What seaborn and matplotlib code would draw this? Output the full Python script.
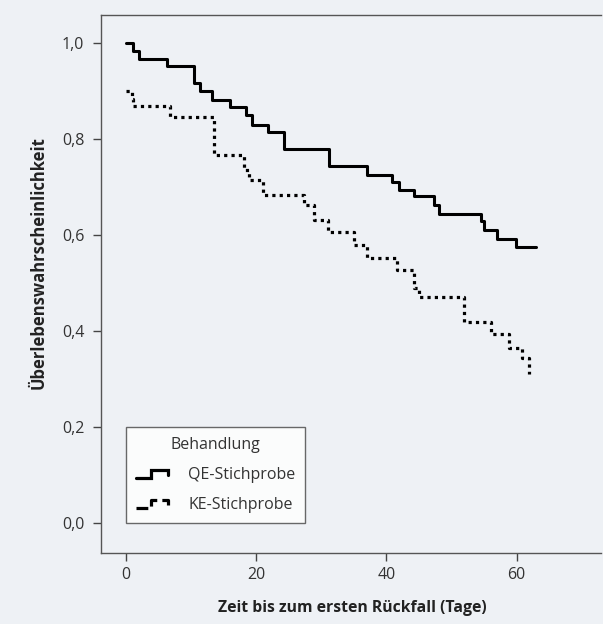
import numpy as np
import pandas as pd
import matplotlib
matplotlib.use("Agg")
import matplotlib.pyplot as plt
from matplotlib.lines import Line2D
from matplotlib.legend_handler import HandlerLine2D
import seaborn as sns

# Kaplan-Meier step data (days, survival)
qe_days = [0, 1, 2, 6.3, 10.4, 11.4, 13.2, 16, 18.4, 19.4, 21.8, 24.3, 31.2, 37,
           40.8, 41.9, 44.2, 47.3, 48, 54.5, 55, 57, 59.9, 63]
qe_surv = [1.0, 0.984, 0.966, 0.951, 0.916, 0.899, 0.881, 0.867, 0.85, 0.829, 0.815,
           0.778, 0.744, 0.725, 0.711, 0.694, 0.68, 0.662, 0.644, 0.628, 0.61, 0.591,
           0.574, 0.574]

ke_days = [0, 0.9, 1.1, 6.8, 13.5, 18.1, 18.9, 21, 27.4, 28.9, 31, 35, 37, 41.6,
           44.2, 45, 51.9, 56, 58.9, 60.9, 61.9]
ke_surv = [0.899, 0.884, 0.869, 0.845, 0.767, 0.735, 0.715, 0.683, 0.662, 0.631,
           0.607, 0.579, 0.551, 0.527, 0.49, 0.471, 0.419, 0.394, 0.365, 0.344, 0.31]

groups = ["QE-Stichprobe", "KE-Stichprobe"]
x_ticks = [0, 20, 40, 60]
y_ticks = [0.0, 0.2, 0.4, 0.6, 0.8, 1.0]

bg = "#eef1f5"
sns.set_theme(style="ticks")
plt.rcParams["font.family"] = ["Open Sans", "DejaVu Sans"]

fig = plt.figure(figsize=(6.03, 6.24), dpi=100, facecolor=bg)
ax = fig.add_axes([0.1675, 0.1138, 0.8295, 0.8622], facecolor=bg)

dotted = (0, (1, 1.3))

qe = pd.DataFrame({"t": qe_days, "s": qe_surv})
ke = pd.DataFrame({"t": ke_days, "s": ke_surv})
sns.lineplot(data=qe, x="t", y="s", ax=ax, color="black", linewidth=2.2,
             drawstyle="steps-post", estimator=None, sort=False)
sns.lineplot(data=ke, x="t", y="s", ax=ax, color="black", linewidth=2.3,
             drawstyle="steps-post", estimator=None, sort=False,
             linestyle=dotted, dash_capstyle="butt")

ax.set_xlim(-3.87, 73)
ax.set_ylim(-0.0625, 1.058)
ax.set_xticks(x_ticks)
ax.set_yticks(y_ticks)
ax.set_xticklabels([str(v) for v in x_ticks])
ax.set_yticklabels([f"{v:.1f}".replace(".", ",") for v in y_ticks])
ax.tick_params(axis="both", direction="out", length=6, width=1, color="#444444",
               labelsize=11.5, labelcolor="#333333")
ax.tick_params(axis="y", pad=6)
ax.tick_params(axis="x", pad=4)

for side in ["left", "top", "bottom"]:
    ax.spines[side].set_color("#555555")
    ax.spines[side].set_linewidth(1)
ax.spines["right"].set_visible(False)

ax.set_xlabel("Zeit bis zum ersten Rückfall (Tage)", fontsize=11.3,
              fontweight="bold", color="#222222")
ax.xaxis.set_label_coords(0.502, -0.088)
ax.set_ylabel("Überlebenswahrscheinlichkeit", fontsize=12,
              fontweight="bold", color="#222222")
ax.yaxis.set_label_coords(-0.107, 0.54)


class StepHandler(HandlerLine2D):
    # draws a small step glyph instead of a straight legend line
    def create_artists(self, legend, orig_handle, xdescent, ydescent,
                       width, height, fontsize, trans):
        xs = np.array([0.0, 0.45, 0.45, 0.95, 0.95]) * width - xdescent
        ys = np.array([0.1, 0.1, 0.8, 0.8, 0.4]) * height - ydescent
        line = Line2D(xs, ys, color="black", linewidth=2.3,
                      linestyle=orig_handle.get_linestyle(),
                      dash_capstyle="butt", solid_joinstyle="miter")
        line.set_transform(trans)
        return [line]


handles = [Line2D([], [], color="black", linestyle="-"),
           Line2D([], [], color="black", linestyle=dotted)]
leg = ax.legend(handles, groups, title="Behandlung", loc="lower left",
                bbox_to_anchor=(0, 0), bbox_transform=ax.transData,
                borderaxespad=0, frameon=True, fancybox=False,
                fontsize=11.5, title_fontsize=11.5, handlelength=2.1,
                handletextpad=1.2, borderpad=0.6, labelspacing=0.9,
                handler_map={Line2D: StepHandler()})
leg.get_frame().set_edgecolor("#444444")
leg.get_frame().set_linewidth(1)
leg.get_frame().set_facecolor("white")
leg.get_title().set_color("#333333")
for t in leg.get_texts():
    t.set_color("#333333")

fig.savefig("out.png", dpi=100, facecolor=bg)
